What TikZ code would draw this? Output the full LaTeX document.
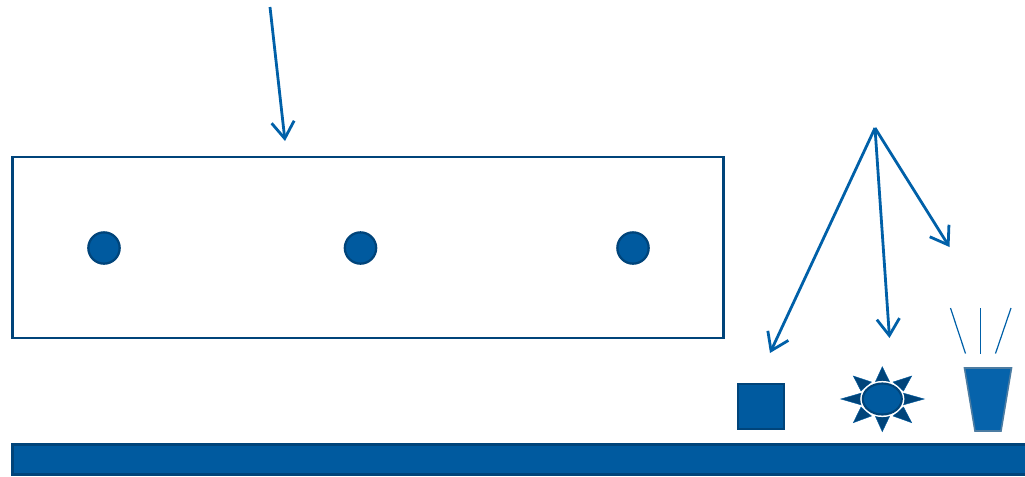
\documentclass[tikz,border=0pt]{standalone}
\usepackage{tikz}
\usetikzlibrary{arrows.meta}
\definecolor{chipblue}{HTML}{005A9F}
\definecolor{beamblue}{HTML}{0060A8}
\definecolor{edgeblue}{HTML}{00447A}
\definecolor{cupblue}{HTML}{0663AB}
\tikzset{
    wafer/.style={draw=edgeblue, line width=2pt, fill=white, inner sep=0pt, outer sep=0pt, minimum width=533pt, minimum height=135.75pt},
    dopant/.style={circle, draw=edgeblue, line width=1.7pt, fill=chipblue, inner sep=0pt, outer sep=0pt, minimum size=23.5pt},
    solid block/.style={draw=edgeblue, line width=1.6pt, fill=chipblue, inner sep=0pt, outer sep=0pt},
    spike/.style={fill=edgeblue, draw=chipblue, line width=0.3pt},
    ray/.style={draw=beamblue, line width=0.9pt},
    beam/.style={draw=beamblue, line width=2.1pt, -{Straight Barb[length=12.5pt, width=17pt, line width=2.1pt]}}
}
\begin{document}
\begin{tikzpicture}[x=0.75pt, y=-0.75pt]
    \useasboundingbox (0,0) rectangle (1025,476);

    % Main box and the three dots
    \node[wafer] (box) at (368,247.5) {};
    \node[dopant] (dotA) at (104,248) {};
    \node[dopant] (dotB) at (360.5,248) {};
    \node[dopant] (dotC) at (633,248) {};

    % Bottom bar and the square
    \node[solid block, anchor=north west, minimum width=780pt, minimum height=22.5pt] (bar) at (12.5,444.5) {};
    \node[solid block, minimum size=34pt] (square) at (761,406.7) {};

    % Beams
    \coordinate (topStart) at (270,7);
    \coordinate (topEnd)   at (285,141);
    \coordinate (fan)      at (875,128);
    \coordinate (fanA)     at (770,353);
    \coordinate (fanB)     at (889.5,338);
    \coordinate (fanC)     at (949.5,247);
    \draw[beam] (topStart) -- (topEnd);
    \draw[beam] (fan) -- (fanA);
    \draw[beam] (fan) -- (fanB);
    \draw[beam] (fan) -- (fanC);

    % Star around the ellipse
    \foreach \tip/\baseA/\baseB in {
        {882.3,366.7}/{875,382.5}/{890,382.5},
        {911.7,376}/{893,382}/{903.5,391},
        {924.3,399}/{903,393}/{903,405},
        {911.7,422.7}/{903.5,407}/{893,416},
        {882.3,431.7}/{890,415.5}/{875,415.5},
        {853.3,422.7}/{871.5,416}/{861,407},
        {840.7,399}/{861.5,405}/{861.5,393},
        {853.3,376}/{861,391}/{871.5,382}} {
        \draw[spike] (\tip) -- (\baseA) -- (\baseB) -- cycle;
    }
    \draw[white, line width=1.6pt] (882.3,399) ellipse (21 and 17);
    \draw[solid block] (882.3,399) ellipse (19.5 and 15.5);

    % Cup with rays
    \draw[draw=edgeblue!70!white, line width=1.2pt, fill=cupblue] (964.5,368) -- (1011.5,368) -- (1001,431) -- (975,431) -- cycle;
    \draw[ray] (950.5,308) -- (965.5,353.5);
    \draw[ray] (980.3,308) -- (980.3,353.5);
    \draw[ray] (1011,308) -- (995.5,353.5);
\end{tikzpicture}
\end{document}
